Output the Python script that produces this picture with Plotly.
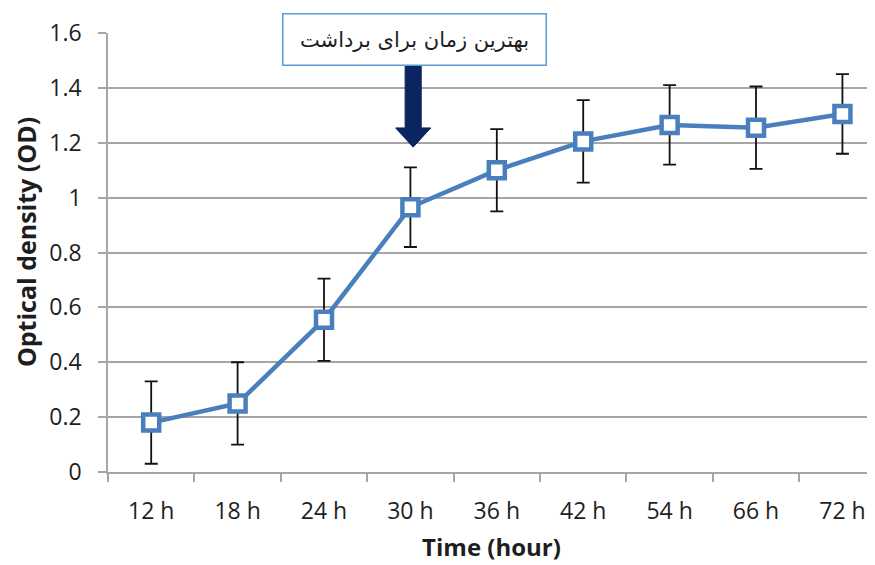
import plotly.graph_objects as go

categories = ["12 h", "18 h", "24 h", "30 h", "36 h", "42 h", "54 h", "66 h", "72 h"]
od_values = [0.18, 0.25, 0.555, 0.965, 1.10, 1.205, 1.265, 1.255, 1.305]
od_errors = [0.15, 0.15, 0.15, 0.145, 0.15, 0.15, 0.145, 0.15, 0.145]
y_ticks = [0, 0.2, 0.4, 0.6, 0.8, 1.0, 1.2, 1.4, 1.6]
y_tick_labels = ["0", "0.2", "0.4", "0.6", "0.8", "1", "1.2", "1.4", "1.6"]
note_text = "بهترین زمان برای برداشت"
y_title = "Optical density (OD)"
x_title = "Time (hour)"

BLUE = "#4a7fbd"
GRID = "#a6a6a6"
FONT = "'Open Sans', Lato, sans-serif"
TXT = "#1e1e1e"

fig = go.Figure()
fig.add_trace(go.Scatter(
    x=categories, y=od_values,
    mode="lines+markers",
    line=dict(color=BLUE, width=4.5),
    marker=dict(symbol="square", size=16, color="white",
                line=dict(color=BLUE, width=4.5)),
    error_y=dict(type="data", array=od_errors, visible=True,
                 color="#111111", thickness=1.8, width=6.5),
    cliponaxis=False,
    showlegend=False,
))

# block arrow pointing down at 30 h
ax = 3.032
sw, hw = 0.093, 0.203
y_top, y_head, y_tip = 1.49, 1.254, 1.184
path = (f"M {ax-sw},{y_top} L {ax+sw},{y_top} L {ax+sw},{y_head} "
        f"L {ax+hw},{y_head} L {ax},{y_tip} L {ax-hw},{y_head} "
        f"L {ax-sw},{y_head} Z")
fig.add_shape(type="path", path=path, xref="x", yref="y",
              fillcolor="#0b2560", line=dict(color="#0b2560", width=1))

fig.add_annotation(
    x=3.05, y=1.578, xref="x", yref="y", text=note_text, showarrow=False,
    font=dict(family="DejaVu Sans", size=21, color=TXT),
    bgcolor="white", bordercolor="#5b9bd5", borderwidth=1.5,
    width=260, height=48, align="center",
)

# y-axis title
fig.add_annotation(
    x=-0.106, y=0.523, xref="paper", yref="paper", text=f"<b>{y_title}</b>",
    showarrow=False, textangle=-90, xanchor="center", yanchor="middle",
    font=dict(size=25, family=FONT, color=TXT),
)

fig.update_layout(
    width=875, height=565,
    margin=dict(l=100, r=8, t=25, b=101),
    paper_bgcolor="white", plot_bgcolor="white",
    font=dict(family=FONT, size=23, color=TXT),
)
fig.update_xaxes(
    type="category", range=[-0.5, 8.377],
    showline=True, linecolor=GRID, linewidth=1.5,
    ticks="outside", tickson="boundaries", ticklen=8, tickcolor=GRID, tickwidth=1.5,
    showgrid=False,
    ticklabelstandoff=18,
    tickfont=dict(size=23, family=FONT, color=TXT),
    title=dict(text=f"<b>{x_title}</b>", font=dict(size=24, family=FONT, color=TXT),
               standoff=14),
)
fig.update_yaxes(
    range=[0, 1.6], tickvals=y_ticks, ticktext=y_tick_labels,
    showline=True, linecolor=GRID, linewidth=1.5,
    ticks="outside", ticklen=8, tickcolor=GRID, tickwidth=1.5,
    showgrid=True, gridcolor=GRID, gridwidth=1.5,
    zeroline=False,
    ticklabelstandoff=12,
    tickfont=dict(size=23, family=FONT, color=TXT),
)

fig.write_html("out.html")
